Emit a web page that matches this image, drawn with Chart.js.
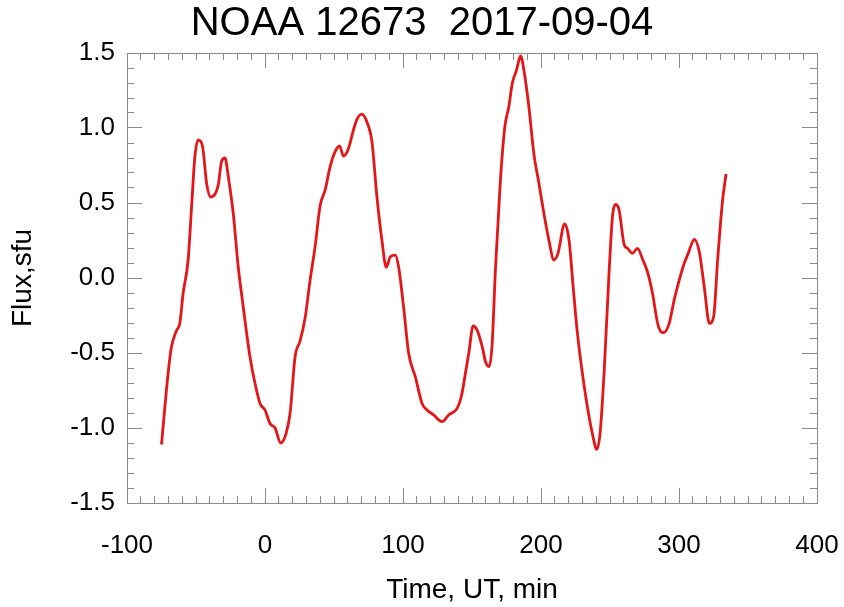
<!DOCTYPE html>
<html><head><meta charset="utf-8">
<script src="https://cdn.jsdelivr.net/npm/chart.js@4/dist/chart.umd.min.js"></script>
<style>html,body{margin:0;padding:0;background:#fff}#wrap{width:844px;height:607px}</style>
</head><body><div id="wrap"><canvas id="c" width="844" height="607"></canvas></div>
<script>
// ---- data ----
const timeMin = [
 -75.0,-70.2,-67.8,-64.1,-61.7,-59.3,-55.7,-53.2,-50.8,-48.4,-45.3,-42.3,-39.4,-33.9,-31.5,-29.0,-26.6,-23.0,-19.4,-15.8,
 -10.9,-7.3,-3.6,0.0,3.6,7.3,11.4,15.3,18.2,21.8,25.4,29.0,32.7,36.3,39.9,43.6,47.2,50.8,54.0,56.9,
 60.5,64.1,66.6,70.2,73.8,77.5,81.1,84.7,87.9,90.8,94.4,96.8,100.4,104.1,108.9,113.8,117.4,122.2,128.3,133.1,
 139.2,142.5,145.2,147.7,150.8,153.7,157.4,159.8,162.5,164.6,167.0,170.5,173.8,176.7,179.2,182.3,185.2,187.6,191.2,194.8,
 198.5,202.1,205.7,209.4,212.3,217.1,220.3,223.5,226.4,230.0,233.6,237.2,240.4,242.8,245.7,249.3,251.8,254.2,256.6,260.2,
 262.7,266.3,269.9,273.6,277.2,280.8,284.5,286.9,288.8,292.9,296.5,300.2,303.8,306.7,311.1,314.7,318.3,322.0,325.1,328.0,
 331.6,334.1
];
const fluxSfu = [
 -1.11,-0.635,-0.46,-0.35,-0.30,-0.10,0.12,0.475,0.81,0.92,0.88,0.63,0.54,0.62,0.776,0.80,0.676,0.43,0.075,-0.19,
 -0.525,-0.70,-0.836,-0.88,-0.97,-1.0,-1.10,-1.036,-0.90,-0.525,-0.42,-0.27,-0.013,0.209,0.48,0.587,0.742,0.842,0.88,0.813,
 0.864,0.987,1.058,1.093,1.042,0.909,0.542,0.253,0.071,0.142,0.153,0.075,-0.191,-0.502,-0.658,-0.836,-0.88,-0.913,-0.958,-0.913,
 -0.869,-0.78,-0.636,-0.50,-0.32,-0.347,-0.458,-0.558,-0.59,-0.44,0.06,0.64,1.009,1.142,1.298,1.387,1.48,1.387,1.142,0.831,
 0.631,0.431,0.253,0.12,0.164,0.36,0.253,-0.08,-0.369,-0.636,-0.858,-1.036,-1.142,-1.036,-0.636,0.031,0.409,0.49,0.453,0.225,
 0.198,0.164,0.198,0.125,0.04,-0.102,-0.302,-0.358,-0.364,-0.302,-0.147,-0.013,0.098,0.164,0.258,0.175,-0.058,-0.302,-0.258,0.12,
 0.52,0.693
];
const xMajorTicks = [-100, 0, 100, 200, 300, 400];
const yMajorTicks = [-1.5, -1.0, -0.5, 0.0, 0.5, 1.0, 1.5];
const xMinorStep = 10;
const yMinorStep = 0.1;
const titleText = 'NOAA 12673  2017-09-04';
const xTitle = 'Time, UT, min';
const yTitle = 'Flux,sfu';

// ---- styling ----
const FAM = '"Liberation Sans", Arial, Helvetica, sans-serif';
const AX = '#8a8a8a';
const X_MIN = -100, X_MAX = 400, Y_MIN = -1.5, Y_MAX = 1.5;

function minorTicks(min, max, step) {
  const out = [];
  const n = Math.round((max - min) / step);
  for (let i = 0; i <= n; i++) out.push({ value: +(min + i * step).toFixed(6) });
  return out;
}

function axis(opts) {
  const { axisName, position, weight, ticksList, size, tickLen, labels, border, title, labelPad, fmt } = opts;
  const isX = axisName === 'x';
  return {
    type: 'linear', axis: axisName, position, weight,
    min: isX ? X_MIN : Y_MIN, max: isX ? X_MAX : Y_MAX,
    afterBuildTicks: s => { s.ticks = ticksList(); },
    afterFit: s => {
      if (isX) s.height = size; else s.width = size;
      s.paddingLeft = 0; s.paddingRight = 0; s.paddingTop = 0; s.paddingBottom = 0;
    },
    ticks: {
      display: !!labels, color: '#000', padding: labelPad || 0,
      font: { family: FAM, size: 26 }, autoSkip: false, maxRotation: 0,
      callback: fmt || (v => String(v))
    },
    grid: { drawOnChartArea: false, drawTicks: true, tickLength: tickLen, tickColor: AX, tickWidth: 1 },
    border: { display: !!border, color: AX, width: 1 },
    title: title || { display: false }
  };
}

const ctx = document.getElementById('c').getContext('2d');
new Chart(ctx, {
  type: 'line',
  data: {
    datasets: [{
      data: timeMin.map((t, i) => ({ x: t, y: fluxSfu[i] })),
      borderColor: 'rgb(228,22,24)', borderWidth: 2.8,
      pointRadius: 0, fill: false, cubicInterpolationMode: 'monotone',
      xAxisID: 'x', yAxisID: 'y'
    }]
  },
  options: {
    responsive: false, animation: false, devicePixelRatio: 1,
    layout: { padding: 0 },
    plugins: {
      legend: { display: false }, tooltip: { enabled: false },
      title: {
        display: true, text: titleText, color: '#000',
        font: { family: FAM, size: 40, weight: 'normal' },
        padding: { top: 0, bottom: 5 }
      }
    },
    scales: {
      x: axis({ axisName: 'x', position: 'bottom', weight: 1, size: 104, tickLen: -15, labels: true, border: true,
        labelPad: 42, ticksList: () => xMajorTicks.map(v => ({ value: v })),
        title: { display: true, text: xTitle, color: '#000', font: { family: FAM, size: 28 }, padding: { top: 0, bottom: 0 } } }),
      xMinor: axis({ axisName: 'x', position: 'bottom', weight: 0, size: 0, tickLen: -7,
        ticksList: () => minorTicks(X_MIN, X_MAX, xMinorStep) }),
      xTop: axis({ axisName: 'x', position: 'top', weight: 1, size: 0, tickLen: -15, border: true,
        ticksList: () => xMajorTicks.map(v => ({ value: v })) }),
      xTopMinor: axis({ axisName: 'x', position: 'top', weight: 0, size: 0, tickLen: -7,
        ticksList: () => minorTicks(X_MIN, X_MAX, xMinorStep) }),
      y: axis({ axisName: 'y', position: 'left', weight: 1, size: 127, tickLen: -15, labels: true, border: true,
        labelPad: 27, ticksList: () => yMajorTicks.map(v => ({ value: v })), fmt: v => Number(v).toFixed(1),
        title: { display: true, text: yTitle, color: '#000', font: { family: FAM, size: 28 }, padding: { top: 6, bottom: 0 } } }),
      yMinor: axis({ axisName: 'y', position: 'left', weight: 0, size: 0, tickLen: -7,
        ticksList: () => minorTicks(Y_MIN, Y_MAX, yMinorStep) }),
      yRight: axis({ axisName: 'y', position: 'right', weight: 1, size: 27, tickLen: -15, border: true,
        ticksList: () => yMajorTicks.map(v => ({ value: v })) }),
      yRightMinor: axis({ axisName: 'y', position: 'right', weight: 0, size: 0, tickLen: -7,
        ticksList: () => minorTicks(Y_MIN, Y_MAX, yMinorStep) })
    }
  }
});
</script>
</body></html>
